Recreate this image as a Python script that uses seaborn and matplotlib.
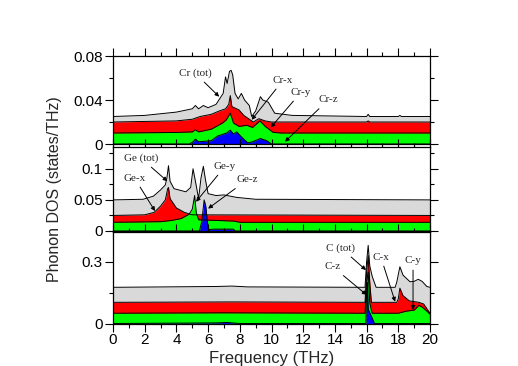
import numpy as np
import pandas as pd
import seaborn as sns
import matplotlib.pyplot as plt
from matplotlib.ticker import MultipleLocator, FuncFormatter

# ---- Cr partial phonon DOS (offset curves, states/THz) ----
cr_tot_f = [0, 2, 4, 5.0, 5.2, 5.4, 5.7, 6.0, 6.5, 6.95, 7.1, 7.2, 7.35, 7.45, 7.55, 7.7, 7.9, 8.1, 8.3, 8.6, 8.75, 9.0, 9.3, 9.45, 9.8, 10.2, 11.3, 16.0, 16.1, 16.2, 18.0, 18.1, 18.2, 20]
cr_tot = [0.025, 0.026, 0.029, 0.032, 0.035, 0.032, 0.035, 0.033, 0.036, 0.046, 0.061, 0.055, 0.066, 0.067, 0.063, 0.046, 0.041, 0.046, 0.040, 0.035, 0.025, 0.030, 0.043, 0.040, 0.038, 0.028, 0.026, 0.025, 0.027, 0.025, 0.025, 0.026, 0.025, 0.025]
cr_x_f = [0, 4, 5.0, 5.5, 6.2, 6.7, 7.1, 7.3, 7.4, 7.5, 7.95, 8.25, 8.85, 9.2, 9.6, 10.0, 16.0, 16.1, 16.2, 20]
cr_x = [0.020, 0.021, 0.0225, 0.025, 0.027, 0.030, 0.032, 0.036, 0.044, 0.034, 0.031, 0.026, 0.020, 0.023, 0.021, 0.020, 0.020, 0.021, 0.020, 0.020]
cr_y_f = [0, 4, 5.0, 5.2, 5.4, 6.2, 6.9, 7.15, 7.4, 7.6, 7.95, 8.45, 8.8, 9.27, 9.6, 10.1, 10.6, 20]
cr_y = [0.010, 0.0105, 0.011, 0.013, 0.011, 0.0135, 0.019, 0.022, 0.028, 0.019, 0.016, 0.017, 0.015, 0.021, 0.016, 0.0106, 0.010, 0.010]
cr_z_f = [0, 4.8, 5.05, 5.2, 5.4, 6.2, 6.6, 7.17, 7.4, 7.6, 7.8, 8.2, 8.5, 8.8, 9.3, 9.7, 10.0, 20]
cr_z = [0, 0, 0.002, 0.0045, 0.002, 0.003, 0.0073, 0.010, 0.0126, 0.009, 0.011, 0.005, 0.001, 0.002, 0.005, 0.003, 0, 0]

# ---- Ge ----
ge_tot_f = [0, 1.9, 2.55, 3.0, 3.3, 3.4, 3.5, 3.6, 3.85, 4.6, 4.9, 5.05, 5.2, 5.4, 5.55, 5.7, 5.85, 6.0, 6.5, 7.0, 7.8, 9.0, 20]
ge_tot = [0.050, 0.051, 0.056, 0.066, 0.074, 0.085, 0.105, 0.080, 0.068, 0.063, 0.070, 0.100, 0.080, 0.052, 0.085, 0.104, 0.080, 0.060, 0.057, 0.058, 0.054, 0.051, 0.050]
ge_x_f = [0, 2.0, 2.6, 3.0, 3.3, 3.45, 3.5, 3.6, 4.0, 4.5, 5.0, 20]
ge_x = [0.025, 0.026, 0.030, 0.040, 0.050, 0.068, 0.070, 0.052, 0.037, 0.030, 0.026, 0.025]
ge_y_f = [0, 3.0, 3.7, 4.3, 4.8, 5.0, 5.15, 5.25, 5.4, 6.5, 7.6, 8.0, 20]
ge_y = [0.014, 0.015, 0.017, 0.020, 0.027, 0.035, 0.057, 0.030, 0.018, 0.017, 0.016, 0.014, 0.014]
ge_z_f = [0, 5.45, 5.6, 5.75, 5.85, 6.0, 6.1, 6.3, 7.6, 7.7, 20]
ge_z = [0, 0, 0.015, 0.050, 0.040, 0.005, 0.002, 0.003, 0.003, 0, 0]

# ---- C ----
c_tot_f = [0, 6.5, 7.5, 8.5, 15.9, 16.0, 16.1, 16.2, 16.35, 16.6, 17.8, 17.9, 18.1, 18.3, 18.74, 19.0, 19.26, 19.5, 19.8, 20]
c_tot = [0.176, 0.180, 0.182, 0.178, 0.176, 0.300, 0.380, 0.280, 0.230, 0.176, 0.176, 0.200, 0.276, 0.235, 0.203, 0.205, 0.215, 0.205, 0.180, 0.176]
c_x_f = [0, 7.5, 15.9, 16.0, 16.1, 16.2, 16.3, 17.9, 18.0, 18.1, 18.3, 18.7, 19.3, 19.6, 20]
c_x = [0.103, 0.105, 0.103, 0.250, 0.330, 0.200, 0.103, 0.103, 0.120, 0.172, 0.135, 0.110, 0.103, 0.095, 0.050]
c_y_f = [0, 7.0, 15.9, 16.0, 16.1, 16.2, 16.35, 18.0, 18.5, 19.0, 19.3, 19.5, 19.8, 20]
c_y = [0.050, 0.052, 0.050, 0.200, 0.250, 0.100, 0.050, 0.050, 0.060, 0.065, 0.088, 0.080, 0.060, 0.045]
c_z_f = [0, 6.5, 7.2, 8.0, 15.95, 16.0, 16.05, 16.1, 16.5, 20]
c_z = [0, 0.003, 0.005, 0, 0, 0.150, 0.200, 0.070, 0, 0]

panels = [
    dict(curves=[(cr_tot_f, cr_tot), (cr_x_f, cr_x), (cr_y_f, cr_y), (cr_z_f, cr_z)],
         ylim=0.08, major=0.04, minor=0.02, box=(56, 144),
         labels=[("Cr (tot)", 5.17, 0.0645, 6.7, 0.043), ("Cr-x", 10.73, 0.058, 8.75, 0.022),
                 ("Cr-y", 11.86, 0.047, 9.95, 0.015), ("Cr-z", 13.56, 0.040, 10.85, 0.002)]),
    dict(curves=[(ge_tot_f, ge_tot), (ge_x_f, ge_x), (ge_y_f, ge_y), (ge_z_f, ge_z)],
         ylim=0.135, major=0.05, minor=0.025, box=(147, 231),
         labels=[("Ge (tot)", 1.77, 0.117, 3.43, 0.08), ("Ge-x", 1.36, 0.085, 2.65, 0.032),
                 ("Ge-y", 7.07, 0.104, 5.24, 0.047), ("Ge-z", 8.45, 0.082, 6.0, 0.036)]),
    dict(curves=[(c_tot_f, c_tot), (c_x_f, c_x), (c_y_f, c_y), (c_z_f, c_z)],
         ylim=0.445, major=0.3, minor=0.15, box=(232, 323.5),
         labels=[("C (tot)", 14.38, 0.367, 15.96, 0.26), ("C-z", 13.88, 0.275, 16.0, 0.139),
                 ("C-x", 16.9, 0.323, 17.8, 0.106), ("C-y", 18.93, 0.304, 18.93, 0.066)]),
]
fill_colors = ["#d9d9d9", "#ff0000", "#00ff00", "#0000ff"]

sns.set_style("ticks")
plt.rcParams['font.family'] = ['Liberation Sans', 'DejaVu Sans']

W, H = 518, 366
fig = plt.figure(figsize=(W / 100, H / 100), dpi=100)

for i, p in enumerate(panels):
    top, bot = p["box"]
    ax = fig.add_axes([113 / W, 1 - bot / H, 317 / W, (bot - top) / H])
    for (f, v), c in zip(p["curves"], fill_colors):
        ax.fill_between(f, v, 0, color=c, lw=0, zorder=2)
        df = pd.DataFrame({"freq": f, "dos": v})
        sns.lineplot(data=df, x="freq", y="dos", color="k", lw=0.7, ax=ax,
                     estimator=None, sort=False, zorder=3)
    for txt, tx, ty, ax_, ay in p["labels"]:
        ax.annotate(txt, xy=(ax_, ay), xytext=(tx, ty), ha="center", va="center",
                    fontsize=8, family=["Liberation Serif", "DejaVu Serif"], zorder=5,
                    arrowprops=dict(arrowstyle="-|>", color="k", lw=0.7,
                                    mutation_scale=6, shrinkA=1, shrinkB=0))
    ax.set_xlim(0, 20)
    ax.set_ylim(0, p["ylim"])
    ax.xaxis.set_major_locator(MultipleLocator(2))
    ax.xaxis.set_minor_locator(MultipleLocator(1))
    ax.yaxis.set_major_locator(MultipleLocator(p["major"]))
    ax.yaxis.set_minor_locator(MultipleLocator(p["minor"]))
    ax.yaxis.set_major_formatter(FuncFormatter(lambda v, pos: "%g" % round(v, 4)))
    ax.tick_params(which="both", direction="out", top=True, right=True, width=0.8,
                   labelsize=11, colors="k")
    ax.tick_params(which="major", length=5.5)
    ax.tick_params(which="minor", length=2.8)
    ax.tick_params(axis="y", pad=2)
    ax.tick_params(axis="x", pad=1)
    for s in ax.spines.values():
        s.set_linewidth(0.9)
        s.set_color("k")
    ax.set_xlabel("")
    ax.set_ylabel("")
    if i < 2:
        ax.tick_params(axis="x", labelbottom=False)

fig.text(54.5 / W, 1 - 189 / H, "Phonon DOS (states/THz)", rotation=90,
         ha="center", va="center", fontsize=11.5)
fig.text(271.5 / W, 1 - 358 / H, "Frequency (THz)", ha="center", va="center", fontsize=12)

fig.savefig("out.png", dpi=100)
